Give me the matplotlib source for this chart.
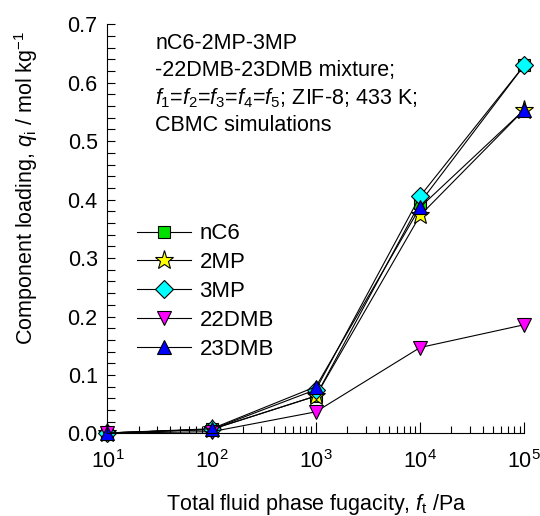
import matplotlib
matplotlib.use("Agg")
import matplotlib.pyplot as plt
from matplotlib.ticker import MultipleLocator, LogLocator, NullFormatter, FormatStrFormatter

plt.rcParams['font.family'] = ['Liberation Sans', 'DejaVu Sans']
plt.rcParams['mathtext.fontset'] = 'custom'
plt.rcParams['mathtext.rm'] = 'Liberation Sans'
plt.rcParams['mathtext.it'] = 'Liberation Sans:italic'

fugacity = [10, 100, 1000, 10000, 100000]
nC6 = [0.0008, 0.007, 0.064, 0.395, 0.630]
mp2 = [0.0008, 0.007, 0.064, 0.373, 0.554]
mp3 = [0.0008, 0.007, 0.075, 0.406, 0.630]
dmb22 = [0.0005, 0.003, 0.037, 0.147, 0.186]
dmb23 = [0.0008, 0.008, 0.080, 0.387, 0.554]

series = [
    ("nC6", nC6, 's', '#00e000'),
    ("2MP", mp2, '*', '#ffff00'),
    ("3MP", mp3, 'D', '#00ffff'),
    ("22DMB", dmb22, 'v', '#ff00ff'),
    ("23DMB", dmb23, '^', '#0000ff'),
]
sizes = {'s': 8.5, '*': 14, 'D': 9, 'v': 10, '^': 10}

fig = plt.figure(figsize=(5.4, 5.16), dpi=100)
ax = fig.add_axes([0.199, 0.16, 0.772, 0.793])

for name, vals, m, c in series:
    ax.plot(fugacity, vals, color='black', lw=0.8, marker=m, ms=sizes[m],
            markerfacecolor=c, markeredgecolor='black', markeredgewidth=0.8,
            label=name, clip_on=False)

ax.set_xscale('log')
ax.set_xlim(10, 1e5)
ax.set_ylim(0, 0.7)
ax.yaxis.set_major_locator(MultipleLocator(0.1))
ax.yaxis.set_minor_locator(MultipleLocator(0.02))
ax.yaxis.set_major_formatter(FormatStrFormatter('%.1f'))
ax.xaxis.set_major_locator(LogLocator(base=10, numticks=10))
ax.xaxis.set_minor_locator(LogLocator(base=10, subs=range(2, 10), numticks=20))
ax.xaxis.set_minor_formatter(NullFormatter())

for s in ['top', 'right']:
    ax.spines[s].set_visible(False)
for s in ['left', 'bottom']:
    ax.spines[s].set_linewidth(0.8)

ax.tick_params(axis='both', which='both', direction='in', labelsize=15.5, width=0.8)
ax.tick_params(axis='x', which='major', length=8, pad=12)
ax.tick_params(axis='x', which='minor', length=5)
ax.tick_params(axis='y', which='major', length=6, pad=7)
ax.tick_params(axis='y', which='minor', length=6)

ax.set_xlabel('Total fluid phase fugacity, $f_\\mathrm{t}$ /Pa', fontsize=15.5, labelpad=14)
ax.set_ylabel('Component loading, $q_\\mathrm{i}$ / mol kg$^{-1}$', fontsize=15.5)
ax.yaxis.set_label_coords(-0.163, 0.6)

ax.text(0.115, 0.978,
        'nC6-2MP-3MP\n-22DMB-23DMB mixture;\n'
        '$f_1$=$f_2$=$f_3$=$f_4$=$f_5$; ZIF-8; 433 K;\nCBMC simulations',
        transform=ax.transAxes, fontsize=15.5, va='top', ha='left', linespacing=1.33)

ax.legend(loc='upper left', bbox_to_anchor=(0.05, 0.535), frameon=False, fontsize=16,
          handlelength=2.4, labelspacing=0.35, handletextpad=0.4, borderaxespad=0)

fig.savefig('out.png', dpi=100)
